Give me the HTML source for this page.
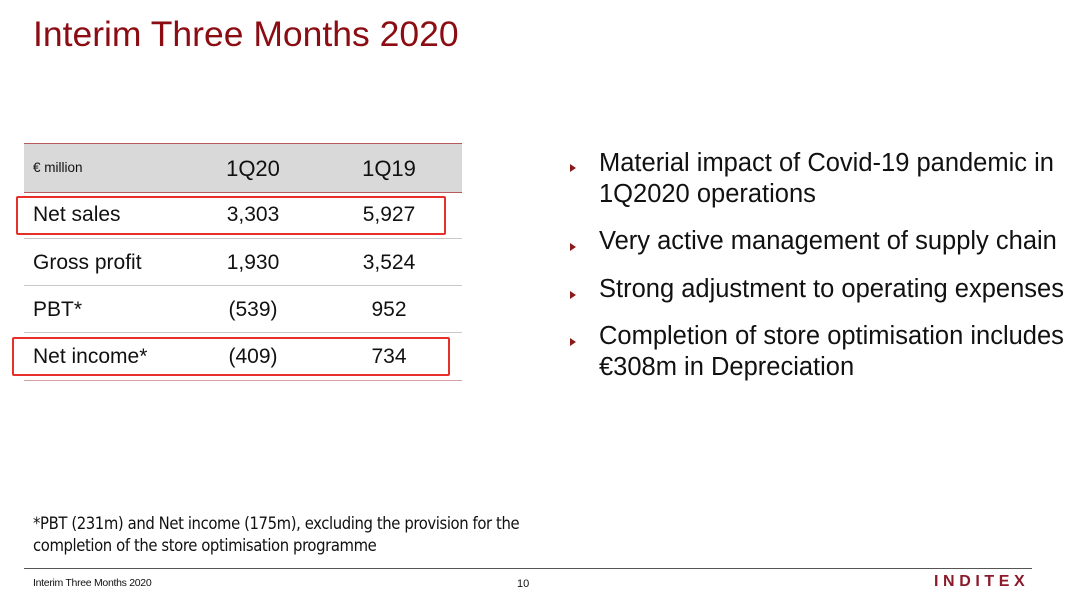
<!DOCTYPE html>
<html><head><meta charset="utf-8"><style>
body{margin:0;width:1080px;height:598px;background:#fff;position:relative;overflow:hidden;font-family:"Liberation Sans",Arial,sans-serif;color:#111}
.a{position:absolute;white-space:nowrap}
.hl{position:absolute;left:24px;width:438px;height:1px;background:#c8c8c8}
.v{position:absolute;width:120px;text-align:center;font-size:21px}
.l{position:absolute;left:33px;font-size:21px}
.b{position:absolute;left:599px;font-size:25.5px;line-height:31px;white-space:nowrap}
.t{position:absolute;left:570px;width:0;height:0;border-left:6px solid #8b1a1a;border-top:4px solid transparent;border-bottom:4px solid transparent}
</style></head><body>
<div class="a" style="left:33px;top:14px;font-size:35.5px;color:#8b0c12">Interim Three Months 2020</div>

<div style="position:absolute;left:24px;top:143px;width:438px;height:48px;background:#d9d9d9;border-top:1px solid #b85a5a;border-bottom:1px solid #b85a5a"></div>
<div class="a" style="left:33px;top:160px;font-size:13.5px">€ million</div>
<div class="v" style="left:193px;top:156px;font-size:22px">1Q20</div>
<div class="v" style="left:329px;top:156px;font-size:22px">1Q19</div>

<div class="hl" style="top:238px"></div><div class="hl" style="top:285px"></div><div class="hl" style="top:332px"></div><div class="hl" style="top:380px;background:#d6a0a0"></div>

<div class="l" style="top:203px">Net sales</div>
<div class="v" style="left:193px;top:203px">3,303</div>
<div class="v" style="left:329px;top:203px">5,927</div>
<div class="l" style="top:251px">Gross profit</div>
<div class="v" style="left:193px;top:251px">1,930</div>
<div class="v" style="left:329px;top:251px">3,524</div>
<div class="l" style="top:298px">PBT*</div>
<div class="v" style="left:193px;top:298px">(539)</div>
<div class="v" style="left:329px;top:298px">952</div>
<div class="l" style="top:345px">Net income*</div>
<div class="v" style="left:193px;top:345px">(409)</div>
<div class="v" style="left:329px;top:345px">734</div>

<div style="position:absolute;left:16px;top:196px;width:426px;height:35px;border:2px solid #e8302a;border-radius:2px"></div>
<div style="position:absolute;left:12px;top:337px;width:434px;height:35px;border:2px solid #e8302a;border-radius:2px"></div>

<div class="t" style="top:164px"></div>
<div class="b" style="top:148px">Material impact of Covid-19 pandemic in<br>1Q2020 operations</div>
<div class="t" style="top:243px"></div>
<div class="b" style="top:226px">Very active management of supply chain</div>
<div class="t" style="top:291px"></div>
<div class="b" style="top:274px">Strong adjustment to operating expenses</div>
<div class="t" style="top:338px"></div>
<div class="b" style="top:321px">Completion of store optimisation includes<br>€308m in Depreciation</div>

<div class="a" style="left:33px;top:513px;font-size:16.5px;line-height:22px;font-family:'DejaVu Sans Condensed','Liberation Sans Narrow',sans-serif;letter-spacing:-0.4px">*PBT (231m) and Net income (175m), excluding the provision for the<br>completion of the store optimisation programme</div>
<div style="position:absolute;left:24px;top:568px;width:1008px;height:1px;background:#555"></div>
<div class="a" style="left:33px;top:577px;font-size:10.5px;letter-spacing:-0.3px">Interim Three Months 2020</div>
<div class="a" style="left:517px;top:578px;font-size:11px">10</div>
<div class="a" style="left:934px;top:573px;font-size:16px;font-weight:bold;letter-spacing:4.6px;color:#8b1a2a">INDITEX</div>
</body></html>
